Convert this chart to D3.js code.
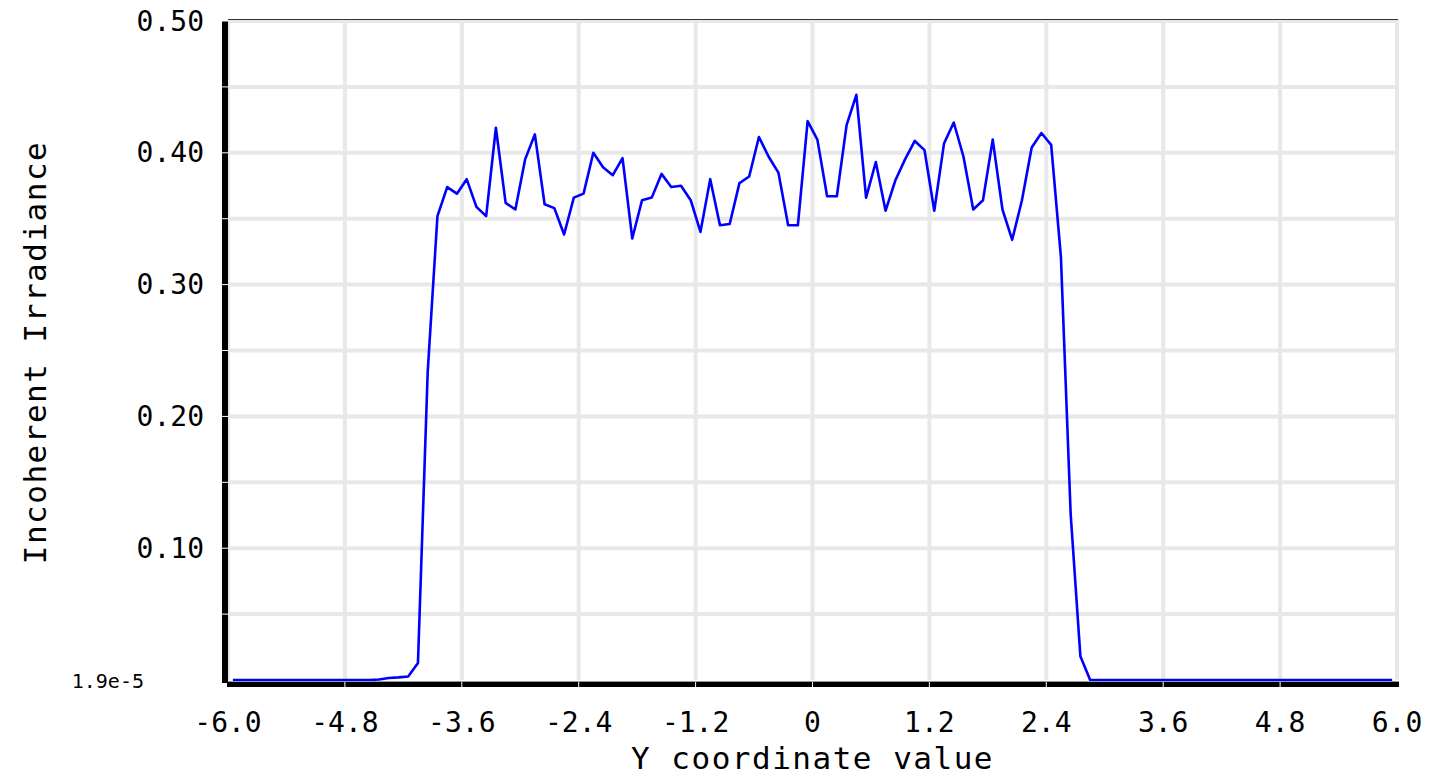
<!DOCTYPE html>
<html>
<head>
<meta charset="utf-8">
<script src="https://cdn.jsdelivr.net/npm/d3@7"></script>
<style>
  body { margin: 0; background: #fff; }
  text { font-family: "DejaVu Sans Mono", "Liberation Mono", monospace; fill: #000; }
</style>
</head>
<body>
<div id="chart"></div>
<script>
// Detector cross section: incoherent irradiance along Y

// Sample positions (bin centres)
const xValues = [
  -5.95, -5.85, -5.75, -5.65, -5.55, -5.45, -5.35, -5.25, -5.15, -5.05,
  -4.95, -4.85, -4.75, -4.65, -4.55, -4.45, -4.35, -4.25, -4.15, -4.05,
  -3.95, -3.85, -3.75, -3.65, -3.55, -3.45, -3.35, -3.25, -3.15, -3.05,
  -2.95, -2.85, -2.75, -2.65, -2.55, -2.45, -2.35, -2.25, -2.15, -2.05,
  -1.95, -1.85, -1.75, -1.65, -1.55, -1.45, -1.35, -1.25, -1.15, -1.05,
  -0.95, -0.85, -0.75, -0.65, -0.55, -0.45, -0.35, -0.25, -0.15, -0.05,
  0.05, 0.15, 0.25, 0.35, 0.45, 0.55, 0.65, 0.75, 0.85, 0.95,
  1.05, 1.15, 1.25, 1.35, 1.45, 1.55, 1.65, 1.75, 1.85, 1.95,
  2.05, 2.15, 2.25, 2.35, 2.45, 2.55, 2.65, 2.75, 2.85, 2.95,
  3.05, 3.15, 3.25, 3.35, 3.45, 3.55, 3.65, 3.75, 3.85, 3.95,
  4.05, 4.15, 4.25, 4.35, 4.45, 4.55, 4.65, 4.75, 4.85, 4.95,
  5.05, 5.15, 5.25, 5.35, 5.45, 5.55, 5.65, 5.75, 5.85, 5.95
];

// Irradiance
const irradiance = [
  0.000019, 0.000019, 0.000019, 0.000019, 0.000019, 0.000019, 0.000019, 0.000019, 0.000019, 0.000019,
  0.000019, 0.000019, 0.000019, 0.000019, 0.000019, 0.0004, 0.0015, 0.0020, 0.0027, 0.013,
  0.234, 0.352, 0.374, 0.369, 0.380, 0.359, 0.352, 0.419, 0.362, 0.357,
  0.395, 0.414, 0.361, 0.358, 0.338, 0.366, 0.369, 0.400, 0.389, 0.383,
  0.396, 0.335, 0.364, 0.366, 0.384, 0.374, 0.375, 0.364, 0.340, 0.380,
  0.345, 0.346, 0.377, 0.382, 0.412, 0.397, 0.385, 0.345, 0.345, 0.424,
  0.410, 0.367, 0.367, 0.421, 0.444, 0.366, 0.393, 0.356, 0.379, 0.395,
  0.409, 0.402, 0.356, 0.407, 0.423, 0.397, 0.357, 0.364, 0.410, 0.357,
  0.334, 0.364, 0.404, 0.415, 0.406, 0.321, 0.126, 0.018, 0.000019, 0.000019,
  0.000019, 0.000019, 0.000019, 0.000019, 0.000019, 0.000019, 0.000019, 0.000019, 0.000019, 0.000019,
  0.000019, 0.000019, 0.000019, 0.000019, 0.000019, 0.000019, 0.000019, 0.000019, 0.000019, 0.000019,
  0.000019, 0.000019, 0.000019, 0.000019, 0.000019, 0.000019, 0.000019, 0.000019, 0.000019, 0.000019
];

// Axis ticks
const xTicks = [-6.0, -4.8, -3.6, -2.4, -1.2, 0, 1.2, 2.4, 3.6, 4.8, 6.0];
const xTickLabels = ["-6.0", "-4.8", "-3.6", "-2.4", "-1.2", "0", "1.2", "2.4", "3.6", "4.8", "6.0"];
const yGridTicks = [0.05, 0.10, 0.15, 0.20, 0.25, 0.30, 0.35, 0.40, 0.45, 0.50];
const yTicks = [0.10, 0.20, 0.30, 0.40, 0.50];
const yMin = 0.000019, yMax = 0.5;
const yMinLabel = "1.9e-5";

const width = 1438, height = 775;
const plotLeft = 228, plotRight = 1397, plotTop = 21, plotBottom = 680;

const svg = d3.select("#chart").append("svg")
    .attr("width", width)
    .attr("height", height);

const x = d3.scaleLinear().domain([-6, 6]).range([plotLeft, plotRight]);
const y = d3.scaleLinear().domain([yMin, yMax]).range([plotBottom, plotTop]);

// Grid lines
svg.append("g").selectAll("line.hgrid")
    .data(yGridTicks)
    .enter().append("line")
    .attr("class", "hgrid")
    .attr("x1", plotLeft).attr("x2", plotRight + 1)
    .attr("y1", d => y(d)).attr("y2", d => y(d))
    .attr("stroke", "#e8e8e8")
    .attr("stroke-width", 4);

svg.append("g").selectAll("line.vgrid")
    .data(xTicks)
    .enter().append("line")
    .attr("class", "vgrid")
    .attr("x1", d => x(d)).attr("x2", d => x(d))
    .attr("y1", plotTop - 1).attr("y2", plotBottom)
    .attr("stroke", "#e8e8e8")
    .attr("stroke-width", 4);

// thin top border
svg.append("line")
    .attr("x1", plotLeft).attr("x2", plotRight + 1)
    .attr("y1", plotTop - 1.5).attr("y2", plotTop - 1.5)
    .attr("stroke", "#333").attr("stroke-width", 1);

// The data line
const line = d3.line()
    .x((d, i) => x(xValues[i]))
    .y(d => y(d));

svg.append("path")
    .datum(irradiance)
    .attr("fill", "none")
    .attr("stroke", "#0000ff")
    .attr("stroke-width", 2.6)
    .attr("stroke-linejoin", "round")
    .attr("d", line);

// Thick black axes
svg.append("rect")
    .attr("x", plotLeft - 6).attr("y", plotTop)
    .attr("width", 6).attr("height", plotBottom - plotTop + 3)
    .attr("fill", "#000");

svg.append("line")
    .attr("x1", plotLeft).attr("x2", plotRight + 2)
    .attr("y1", plotBottom + 1.5).attr("y2", plotBottom + 1.5)
    .attr("stroke", "#999").attr("stroke-width", 1);

svg.append("rect")
    .attr("x", plotLeft - 1).attr("y", plotBottom + 2)
    .attr("width", plotRight - plotLeft + 3).attr("height", 5)
    .attr("fill", "#000");

// White tick notches through the axes
svg.append("g").selectAll("line")
    .data(yGridTicks)
    .enter().append("line")
    .attr("x1", plotLeft - 6).attr("x2", plotLeft)
    .attr("y1", d => y(d)).attr("y2", d => y(d))
    .attr("stroke", "#fff").attr("stroke-width", 1);

svg.append("g").selectAll("line")
    .data(xTicks.slice(1, -1))
    .enter().append("line")
    .attr("x1", d => x(d)).attr("x2", d => x(d))
    .attr("y1", plotBottom + 2).attr("y2", plotBottom + 7)
    .attr("stroke", "#fff").attr("stroke-width", 1);

// Tick labels
svg.append("g").selectAll("text")
    .data(yTicks)
    .enter().append("text")
    .attr("x", 204)
    .attr("y", d => y(d))
    .attr("text-anchor", "end")
    .attr("dominant-baseline", "central")
    .style("font-size", "28px")
    .text(d => d3.format(".2f")(d));

svg.append("text")
    .attr("x", 144)
    .attr("y", y(yMin) + 1)
    .attr("text-anchor", "end")
    .attr("dominant-baseline", "central")
    .style("font-size", "20px")
    .text(yMinLabel);

svg.append("g").selectAll("text")
    .data(xTicks)
    .enter().append("text")
    .attr("x", d => x(d))
    .attr("y", 722)
    .attr("text-anchor", "middle")
    .attr("dominant-baseline", "central")
    .style("font-size", "28px")
    .text((d, i) => xTickLabels[i]);

// Axis titles
svg.append("text")
    .attr("x", (plotLeft + plotRight) / 2)
    .attr("y", 758)
    .attr("text-anchor", "middle")
    .attr("dominant-baseline", "central")
    .style("font-size", "31px")
    .style("letter-spacing", "1.5px")
    .text("Y coordinate value");

svg.append("text")
    .attr("transform", `translate(35, ${(plotTop + plotBottom) / 2 + 2}) rotate(-90)`)
    .attr("text-anchor", "middle")
    .attr("dominant-baseline", "central")
    .style("font-size", "31px")
    .style("letter-spacing", "1.5px")
    .text("Incoherent Irradiance");
</script>
</body>
</html>
